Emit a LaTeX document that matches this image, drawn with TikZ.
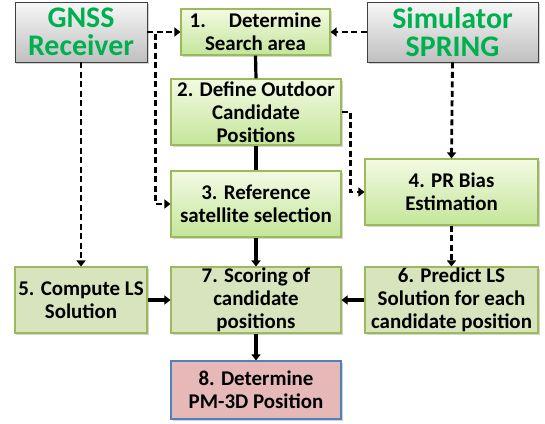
\documentclass[tikz,border=0pt]{standalone}
\usepackage{fontspec}
\setmainfont{Carlito}
\usetikzlibrary{arrows.meta,shadows}
\definecolor{gnssgreen}{HTML}{00B050}
\definecolor{boxborder}{HTML}{9BBB59}
\definecolor{gtop}{HTML}{F3FAE3}
\definecolor{gbot}{HTML}{C4E59A}
\definecolor{olive}{HTML}{D7E4BD}
\definecolor{pinkfill}{HTML}{E6B9B8}
\definecolor{blueborder}{HTML}{4F81BD}
\tikzset{
  base/.style={align=center, inner sep=0bp, font=\fontsize{21}{23}\selectfont\bfseries,
    drop shadow={shadow xshift=1.5bp, shadow yshift=-1.5bp, opacity=0.35}},
  graybox/.style={base, draw=black!75, line width=0.9bp, top color=gray!6, bottom color=gray!50,
    font=\fontsize{30}{28.5}\selectfont\bfseries, text=gnssgreen},
  gradbox/.style={base, draw=boxborder, line width=1.1bp, top color=gtop, bottom color=gbot},
  olivebox/.style={base, draw=boxborder, line width=1.1bp, fill=olive},
  pinkbox/.style={base, draw=blueborder, line width=1.1bp, fill=pinkfill},
  solidarrow/.style={line width=3.2bp, -{Triangle[length=6bp,width=9bp]}},
  solidline/.style={line width=3.2bp},
  dasharrow/.style={line width=2.8bp, dash pattern=on 6bp off 3.5bp, -{Triangle[length=6bp,width=9bp]}},
}
\begin{document}
\begin{tikzpicture}[x=1bp,y=-1bp]
\useasboundingbox (0,0) rectangle (545,423);
\node[graybox, minimum width=132bp, minimum height=60bp] (gnss) at (81,32) {GNSS\\Receiver};
\node[graybox, minimum width=171bp, minimum height=60bp] (sim) at (452.5,32) {Simulator\\SPRING};
\node[gradbox, minimum width=149bp, minimum height=46bp] (b1) at (255.5,32) {1.\hspace{1.1em}Determine\\Search area};
\node[gradbox, minimum width=170bp, minimum height=66bp] (b2) at (256,112) {2. Define Outdoor\\Candidate\\Positions};
\node[gradbox, minimum width=170bp, minimum height=66bp] (b3) at (256,204) {3. Reference\\satellite selection};
\node[gradbox, minimum width=173bp, minimum height=66bp] (b4) at (451.5,192) {4. PR Bias\\Estimation};
\node[olivebox, minimum width=132bp, minimum height=66bp] (b5) at (81,300) {5. Compute LS\\Solution};
\node[olivebox, minimum width=170bp, minimum height=66bp] (b7) at (256,300) {7. Scoring of\\candidate\\positions};
\node[olivebox, minimum width=173bp, minimum height=66bp] (b6) at (451.5,300) {6. Predict LS\\Solution for each\\candidate position};
\node[pinkbox, minimum width=170bp, minimum height=58bp] (b8) at (256,390) {8. Determine\\PM-3D Position};

\draw[solidline] (b1.south) -- (b2.north);
\draw[solidline] (b2.south) -- (b3.north);
\draw[solidarrow] (b3.south) -- (b7.north);
\draw[solidarrow] (b7.south) -- (b8.north);
\draw[solidarrow] (b5.east) -- (b7.west);
\draw[solidarrow] (b6.west) -- (b7.east);

\draw[dasharrow] (gnss.east) -- (b1.west);
\draw[dasharrow] (sim.west) -- (b1.east);
\draw[dasharrow] (gnss.east) -- ++(8,0) |- (b3.west);
\draw[dasharrow] (b2.east) -- ++(9,0) |- (b4.west);
\draw[dasharrow] (gnss.south) -- (b5.north);
\draw[dasharrow] (sim.south) -- (b4.north);
\draw[dasharrow] (b4.south) -- (b6.north);
\end{tikzpicture}
\end{document}
